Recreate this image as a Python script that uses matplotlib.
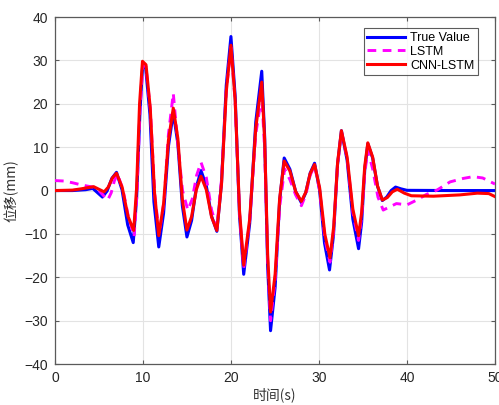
import matplotlib
matplotlib.use("Agg")
import matplotlib.pyplot as plt

# ---- data ----
t_true = [0, 2, 3.5, 4.3, 5.4, 5.93, 6.47, 7.0, 7.63, 8.27, 8.9, 9.28, 9.67, 9.95, 10.3,
          10.8, 11.25, 11.8, 12.35, 12.9, 13.45, 13.97, 14.48, 15.0, 15.53, 16.07, 16.6,
          17.2, 17.8, 18.4, 18.93, 19.47, 20.0, 20.48, 20.97, 21.45, 22.13, 22.82, 23.5,
          23.83, 24.17, 24.5, 25.02, 25.53, 26.05, 26.7, 27.35, 28.0, 28.5, 29.0, 29.5,
          30.07, 30.63, 31.2, 31.65, 32.1, 32.55, 33.2, 33.85, 34.5, 34.85, 35.2, 35.55,
          36.1, 36.65, 37.2, 37.7, 38.2, 38.7, 39.3, 40.0, 45.0, 50.0]
v_true = [0, 0, 0.2, 0.5, -1.5, -0.1, 2.8, 4.2, 0.15, -7.9, -12.0, -1.9, 18.4, 28.3, 28.5,
          17.5, -2.6, -13.0, -5.2, 10.2, 18.0, 10.8, -3.5, -10.7, -6.9, 0.8, 4.6,
          1.1, -5.9, -9.4, 1.8, 24.3, 35.5, 21.8, -5.6, -19.3, -7.6, 15.8, 27.5,
          12.5, -17.4, -32.3, -22.3, -2.4, 7.5, 4.9, -0.2, -2.8, -0.5, 4.0, 6.3,
          0.15, -12.1, -18.3, -10.3, 5.8, 13.8, 7.0, -6.6, -13.4, -7.3, 4.7, 10.8,
          7.5, 1.0, -2.3, -1.5, 0.0, 0.8, 0.4, 0.05, 0.0, 0.0]

t_lstm = [0, 1, 2, 3, 4.3, 5.0, 6.0, 6.4, 6.75, 7.1, 7.7, 8.35, 9.0, 9.33, 9.67, 10.0, 10.35,
          10.85, 11.35, 11.85, 12.4, 12.9, 13.45, 14.0, 14.5, 15.1, 15.6, 16.1, 16.6,
          17.2, 17.8, 18.4, 18.93, 19.47, 20.0, 20.48, 20.97, 21.45, 22.13, 22.82, 23.5,
          23.83, 24.17, 24.5, 25.02, 25.55, 26.1, 26.7, 27.35, 28.0, 28.5, 29.0, 29.5,
          30.08, 30.67, 31.25, 31.68, 32.12, 32.55, 33.2, 33.85, 34.5, 34.85, 35.2, 35.55,
          36.1, 36.7, 37.3, 38.0, 38.8, 40.0, 41.1, 42.2, 43.4, 44.9, 46.4, 47.5, 48.6, 49.8, 50.0]
v_lstm = [2.3, 2.2, 1.8, 1.3, 0.8, 0.0, -2.2, -0.5, 2.2, 3.8, 0.5, -6.0, -10.6, -0.5, 19.0, 29.0, 28.5,
          18.5, -1.0, -10.0, -2.5, 13.0, 22.4, 10.0, 0.0, -4.5, -2.0, 3.5, 6.5,
          3.0, -4.5, -8.5, 2.5, 23.0, 33.0, 20.5, -5.0, -18.0, -7.0, 13.0, 22.0,
          9.5, -16.0, -30.0, -20.5, -3.5, 5.0, 2.5, -1.0, -3.5, -1.0, 3.5, 5.8,
          0.0, -11.0, -16.5, -9.0, 6.0, 13.5, 7.5, -5.0, -11.5, -6.0, 4.0, 9.3,
          5.0, -1.5, -4.5, -3.8, -3.0, -3.3, -2.2, -0.9, 0.1, 2.0, 2.8, 3.2, 2.9, 1.7, 1.5]

t_cnn = [0, 2, 3, 4.4, 5.6, 6.07, 6.53, 7.0, 7.65, 8.3, 8.95, 9.28, 9.62, 9.95, 10.35,
         10.83, 11.32, 11.8, 12.35, 12.9, 13.45, 13.97, 14.48, 15.0, 15.53, 16.07, 16.6,
         17.2, 17.8, 18.4, 18.93, 19.47, 20.0, 20.48, 20.97, 21.45, 22.13, 22.82, 23.5,
         23.83, 24.17, 24.5, 25.02, 25.53, 26.05, 26.7, 27.35, 28.0, 28.5, 29.0, 29.5,
         30.08, 30.67, 31.25, 31.68, 32.12, 32.55, 33.2, 33.85, 34.5, 34.85, 35.2, 35.55,
         36.1, 36.65, 37.2, 37.77, 38.33, 38.9, 39.7, 40.5, 43.0, 46.0, 48.0, 49.3, 50.0]
v_cnn = [0, 0.1, 0.4, 0.9, -0.3, 0.8, 2.9, 4.0, 0.7, -5.9, -9.2, 0.5, 20.0, 29.8, 29.0,
         19.1, -0.5, -10.4, -3.0, 11.6, 19.0, 12.0, -2.1, -9.1, -6.0, 0.2, 3.3,
         0.2, -6.1, -9.2, 1.5, 22.8, 33.5, 20.8, -4.5, -17.2, -6.6, 14.4, 25.0,
         11.7, -14.7, -28.0, -19.3, -1.9, 6.8, 4.5, -0.2, -2.5, -0.4, 3.9, 6.0,
         0.6, -10.1, -15.5, -8.2, 6.5, 13.8, 7.7, -4.3, -10.4, -5.0, 5.6, 11.0,
         7.7, 1.1, -2.2, -1.6, -0.3, 0.3, -0.6, -1.2, -1.3, -1.0, -0.6, -0.7, -1.4]

series_names = ["True Value", "LSTM", "CNN-LSTM"]
x_ticks = [0, 10, 20, 30, 40, 50]
y_ticks = [-40, -30, -20, -10, 0, 10, 20, 30, 40]
x_label = "时间(s)"
y_label = "位移(mm)"

plt.rcParams['font.family'] = ['Liberation Sans', 'Noto Sans CJK SC', 'DejaVu Sans']

fig = plt.figure(figsize=(4.99, 4.05), dpi=100)
ax = fig.add_axes([0.110, 0.101, 0.882, 0.857])

ax.plot(t_true, v_true, color='#0000ff', lw=2.2, label=series_names[0], zorder=3)
ax.plot(t_lstm, v_lstm, color='#ff00ff', lw=2.1, ls=(0, (3.0, 2.2)), label=series_names[1], zorder=4)
ax.plot(t_cnn, v_cnn, color='#ff0000', lw=2.2, label=series_names[2], zorder=5)

ax.set_xlim(0, 50)
ax.set_ylim(-40, 40)
ax.set_xticks(x_ticks)
ax.set_yticks(y_ticks)
ax.grid(True, color='#e3e3e3', lw=0.8)
ax.set_axisbelow(True)
axis_col = '#5a5a5a'
for s in ax.spines.values():
    s.set_color(axis_col)
    s.set_linewidth(0.9)
ax.tick_params(direction='in', length=3, width=0.8, colors=axis_col, labelcolor='#262626',
               labelsize=10, top=True, right=True, pad=5)

ax.set_xlabel(x_label, family=['Noto Sans CJK SC', 'DejaVu Sans'], fontsize=10, color='#333333', labelpad=2)
ax.set_ylabel(y_label, family=['Noto Sans CJK SC', 'DejaVu Sans'], fontsize=10, color='#333333', labelpad=4)

leg = ax.legend(loc='upper right', bbox_to_anchor=(0.967, 0.975), fontsize=9, frameon=True,
                fancybox=False, edgecolor='#333333', handlelength=3.0, borderpad=0.3,
                labelspacing=0.15, handletextpad=0.4, borderaxespad=0.2)
leg.get_frame().set_linewidth(0.8)

fig.savefig("out.png", dpi=100)
